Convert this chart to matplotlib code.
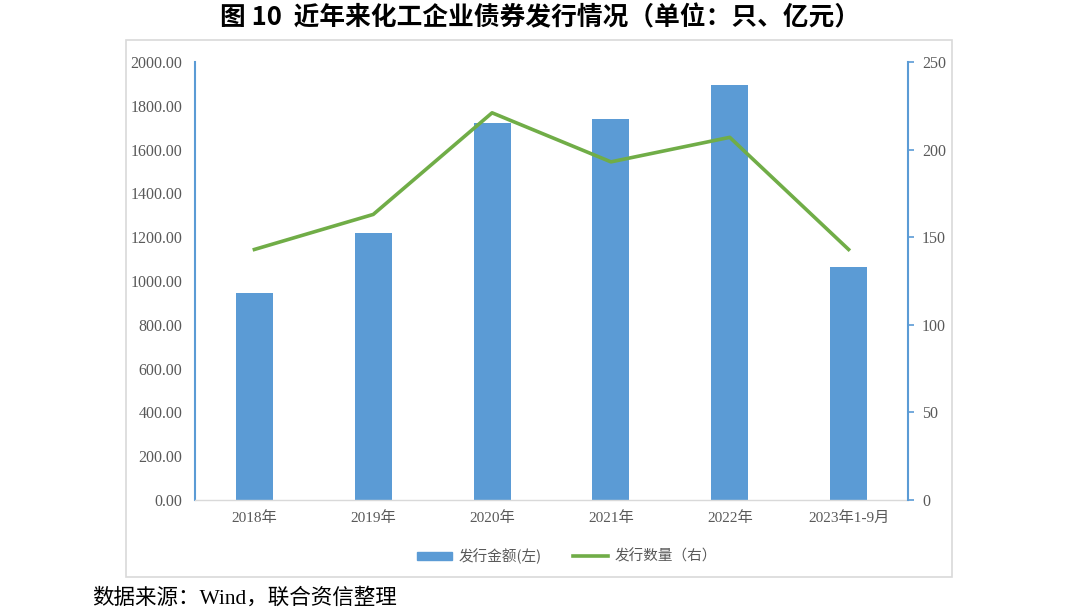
import matplotlib
matplotlib.use("Agg")
import matplotlib.pyplot as plt
from matplotlib.patches import Rectangle
import numpy as np

categories = ["2018年", "2019年", "2020年", "2021年", "2022年", "2023年1-9月"]
amount = [945, 1219, 1721, 1740, 1895, 1064]   # 发行金额（亿元，左轴）
count = [143, 163, 221, 193, 207, 143]          # 发行数量（只，右轴）
left_ticks = [0, 200, 400, 600, 800, 1000, 1200, 1400, 1600, 1800, 2000]
right_ticks = [0, 50, 100, 150, 200, 250]

FAM = ['Liberation Serif', 'Noto Sans CJK SC', 'DejaVu Sans']
plt.rcParams['font.family'] = FAM

W, H = 1080, 613
fig = plt.figure(figsize=(W / 100, H / 100), dpi=100)
fig.patch.set_facecolor('white')

def fx(px):
    return px / W

def fy(py):
    return 1 - py / H

# outer frame
fig.patches.append(Rectangle((fx(126), fy(577)), fx(952) - fx(126), fy(40) - fy(577),
                             transform=fig.transFigure, fill=False, edgecolor='#d9d9d9', lw=1.2))

ax = fig.add_axes([fx(195), fy(500), fx(908) - fx(195), fy(62) - fy(500)])
ax2 = ax.twinx()

x = np.arange(len(categories))
bar_color = '#5b9bd5'
line_color = '#70ad47'
ax.bar(x, amount, width=0.31, color=bar_color, zorder=2)
ax2.plot(x, count, color=line_color, lw=2.6, zorder=3)

ax.set_xlim(-0.5, len(categories) - 0.5)
ax.set_ylim(0, 2000)
ax2.set_ylim(0, 250)
ax.set_yticks(left_ticks)
ax.set_yticklabels([f"{v:.2f}" for v in left_ticks])
ax2.set_yticks(right_ticks)
ax2.set_yticklabels([str(v) for v in right_ticks])
ax.set_xticks(x)
ax.set_xticklabels(categories)

for a in (ax, ax2):
    for s in a.spines.values():
        s.set_visible(False)
ax.spines['left'].set_visible(True)
ax.spines['left'].set_color(bar_color)
ax.spines['left'].set_linewidth(1.5)
ax.spines['bottom'].set_visible(True)
ax.spines['bottom'].set_color('#d9d9d9')
ax.spines['bottom'].set_linewidth(1.0)
ax2.spines['right'].set_visible(True)
ax2.spines['right'].set_color(bar_color)
ax2.spines['right'].set_linewidth(1.5)

ax.tick_params(axis='y', length=0, pad=9, labelsize=11.5, labelcolor='#595959')
ax.tick_params(axis='x', length=0, pad=8, labelsize=11, labelcolor='#595959')
ax2.tick_params(axis='y', length=4, width=1.2, color=bar_color, direction='out',
                pad=6, labelsize=11.5, labelcolor='#595959')

# title
fig.text(0.5, fy(18), "图 10  近年来化工企业债券发行情况（单位：只、亿元）",
         ha='center', va='center', fontsize=18.5, fontweight='bold',
         family=['Noto Sans CJK SC', 'DejaVu Sans'], color='black')

# legend
handles = [plt.Rectangle((0, 0), 1, 1, color=bar_color),
           plt.Line2D([0], [0], color=line_color, lw=2.6)]
fig.legend(handles, ["发行金额(左)", "发行数量（右）"], loc='center',
           bbox_to_anchor=(fx(567), fy(556)), ncol=2, frameon=False,
           prop={'family': ['Noto Sans CJK SC', 'DejaVu Sans'], 'size': 10.5},
           labelcolor='#595959', handlelength=2.4, handleheight=0.5, columnspacing=2.2,
           handletextpad=0.4)

# source
fig.text(fx(92), fy(598), "数据来源：Wind，联合资信整理", ha='left', va='center',
         fontsize=15.5, family=['Liberation Serif', 'Noto Sans CJK SC', 'DejaVu Sans'],
         color='black')

fig.savefig("out.png", dpi=100)
